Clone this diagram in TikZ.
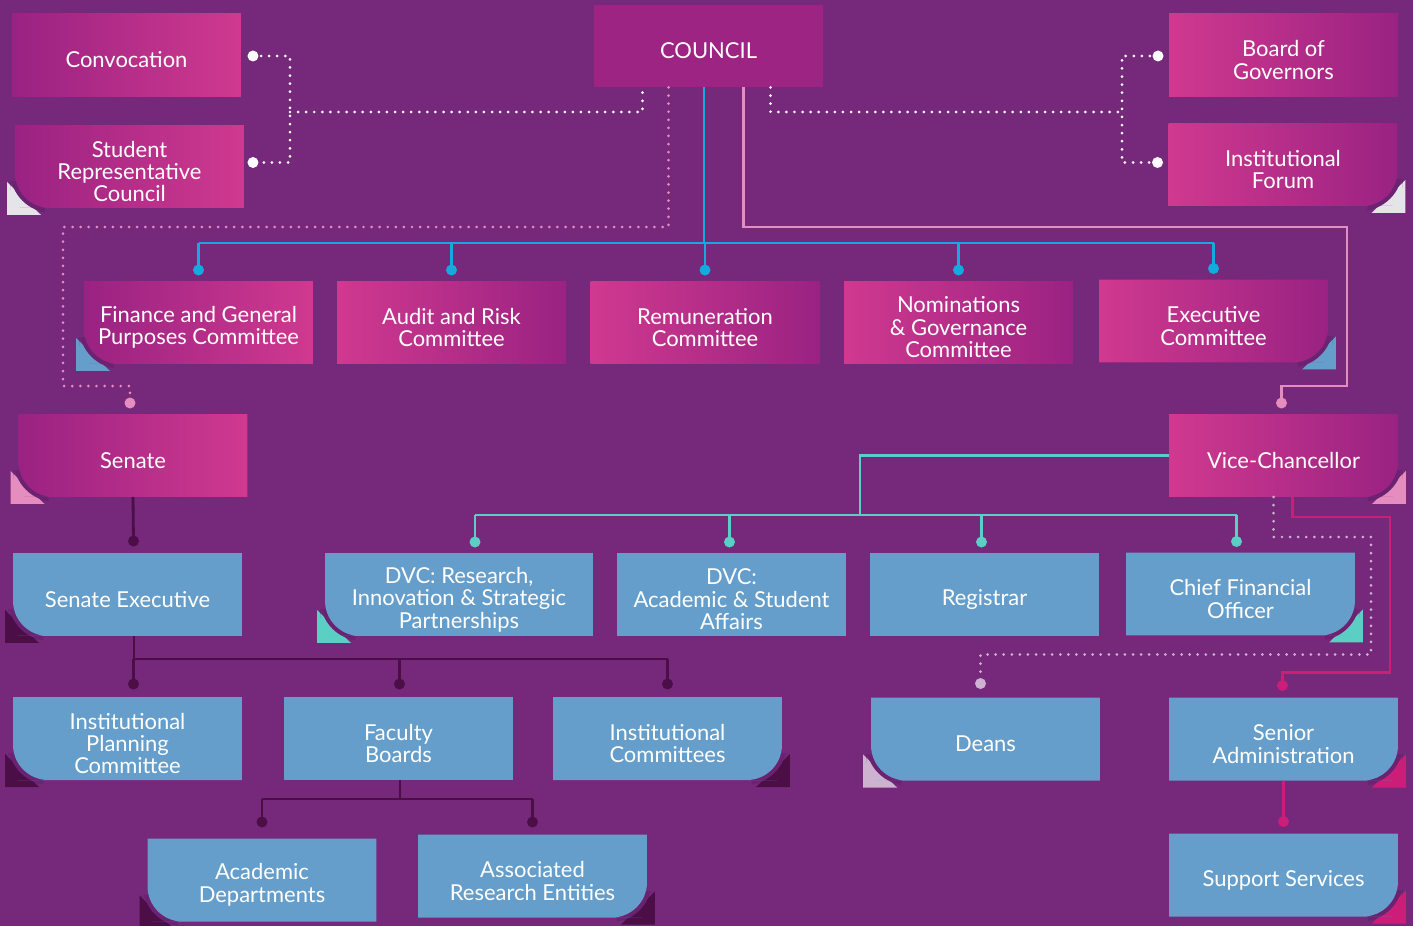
\documentclass[tikz,border=0pt]{standalone}
\usepackage{fontspec}
\setmainfont{Lato}
\usetikzlibrary{calc,backgrounds}

\definecolor{bgpurple}{HTML}{76287A}
\definecolor{magdark}{HTML}{9A2282}
\definecolor{magpink}{HTML}{D0398F}
\definecolor{councilcol}{HTML}{9D2483}
\definecolor{boxblue}{HTML}{659ECA}
\definecolor{cyanline}{HTML}{14AADD}
\definecolor{pinkline}{HTML}{E58DBE}
\definecolor{tealline}{HTML}{5CCFC5}
\definecolor{lilacline}{HTML}{CDB3D0}
\definecolor{magline}{HTML}{CC1E78}
\definecolor{darkline}{HTML}{4B0E47}
\definecolor{curlgrey}{HTML}{E4E4E9}
\definecolor{curlshade}{HTML}{6A2271}

% plain box behind a node
\newcommand{\flatbox}[2]{\path[#2] (#1.south west) rectangle (#1.north east);}
% box with a curled bottom left / bottom right corner
\newcommand{\curlbl}[3]{%
  \begin{scope}[shift={(#1.south west)}]
    \fill[#3] (-8,-26) -- (-8,7) -- (26,7) -- cycle;
    \clip (-10,-26) rectangle (30,10);
    \fill[curlshade, rounded corners=24] (-5,-60) rectangle (80,5);
  \end{scope}
  \path[#2] (#1.north east) -- (#1.north west) -- ($(#1.south west)+(0,-40)$)
    [rounded corners=20] -- (#1.south west) -- ($(#1.south west)+(40,0)$)
    [sharp corners] -- (#1.south east) -- cycle;}
\newcommand{\curlbr}[3]{%
  \begin{scope}[shift={(#1.south east)}, xscale=-1]
    \fill[#3] (-8,-26) -- (-8,7) -- (26,7) -- cycle;
    \clip (-10,-26) rectangle (30,10);
    \fill[curlshade, rounded corners=24] (-5,-60) rectangle (80,5);
  \end{scope}
  \path[#2] (#1.north west) -- (#1.north east) -- ($(#1.south east)+(0,-40)$)
    [rounded corners=20] -- (#1.south east) -- ($(#1.south east)+(-40,0)$)
    [sharp corners] -- (#1.south west) -- cycle;}

\begin{document}
\begin{tikzpicture}[x=0.02cm, y=-0.02cm,
    boxtext/.style={align=center, text=white, inner sep=0pt, yshift=-0.1cm,
                    font=\fontsize{12.5}{12.8}\selectfont},
    orgbox/.style={minimum width=4.58cm, minimum height=1.66cm, inner sep=0pt,
                   outer sep=0pt, label={[boxtext]center:{#1}}},
    magleft/.style={left color=magdark, right color=magpink},
    magright/.style={left color=magpink, right color=magdark},
    bluefill/.style={fill=boxblue},
    dot/.style={circle, fill, inner sep=0pt, minimum size=0.22cm},
    solidline/.style={line width=1.6pt},
    dotline/.style={line width=1.7pt, line cap=round, dash pattern=on 0pt off 4.6pt},
    wdots/.style={dotline, color=white},
    pdots/.style={dotline, color=pinkline},
    ldots/.style={dotline, color=lilacline},
    cyanl/.style={solidline, color=cyanline},
    pinkl/.style={solidline, color=pinkline},
    teall/.style={solidline, color=tealline},
    magl/.style={solidline, color=magline},
    darkl/.style={solidline, color=darkline}]

  \begin{scope}[on background layer]
    \fill[bgpurple] (0,0) rectangle (1413,926);
  \end{scope}
  \useasboundingbox (0,0) rectangle (1413,926);

  % governance
  \node[orgbox={Convocation}] (conv) at (126.5,55) {};
  \node[orgbox={Student\\Representative\\Council}] (src) at (129.5,166.5) {};
  \node[orgbox={COUNCIL}] (council) at (708.5,46) {};
  \node[orgbox={Board of\\Governors}] (bog) at (1283.5,55) {};
  \node[orgbox={Institutional\\Forum}] (forum) at (1283,164.5) {};

  % council committees
  \node[orgbox={Finance and General\\Purposes Committee}] (fin) at (198.5,322.5) {};
  \node[orgbox={Audit and Risk\\Committee}] (audit) at (451.5,322.5) {};
  \node[orgbox={Remuneration\\Committee}] (rem) at (705,322.5) {};
  \node[orgbox={Nominations\\\& Governance\\Committee}] (nom) at (958.5,322.5) {};
  \node[orgbox={Executive\\Committee}] (exec) at (1213.5,321) {};

  \node[orgbox={Senate}] (senate) at (133,455.5) {};
  \node[orgbox={Vice-Chancellor}] (vc) at (1283.5,455.5) {};

  % executive level
  \node[orgbox={Senate Executive}] (senex) at (127.5,594.5) {};
  \node[orgbox={DVC: Research,\\Innovation \& Strategic\\Partnerships}, minimum width=5.36cm] (dvcr) at (459,594.5) {};
  \node[orgbox={DVC:\\Academic \& Student\\Affairs}] (dvca) at (731.5,594.5) {};
  \node[orgbox={Registrar}] (reg) at (984.5,594.5) {};
  \node[orgbox={Chief Financial\\Officer}] (cfo) at (1240.5,594) {};

  \node[orgbox={Institutional\\Planning\\Committee}] (ipc) at (127.5,738.5) {};
  \node[orgbox={Faculty\\Boards}] (fb) at (398.5,738.5) {};
  \node[orgbox={Institutional\\Committees}] (ic) at (667.5,738.5) {};
  \node[orgbox={Deans}] (deans) at (985.5,739) {};
  \node[orgbox={Senior\\Administration}] (senior) at (1283.5,739) {};

  \node[orgbox={Academic\\Departments}] (acad) at (262,880) {};
  \node[orgbox={Associated\\Research Entities}] (assoc) at (532.5,876) {};
  \node[orgbox={Support Services}] (support) at (1283.5,875) {};

  \begin{scope}[on background layer]
    \flatbox{conv}{magleft}
    \flatbox{council}{fill=councilcol}
    \flatbox{bog}{magright}
    \flatbox{audit}{magright}
    \flatbox{rem}{magright}
    \flatbox{nom}{magright}
    \flatbox{dvca}{bluefill}
    \flatbox{reg}{bluefill}
    \flatbox{fb}{bluefill}
    \curlbl{src}{magleft}{curlgrey}
    \curlbr{forum}{magright}{curlgrey}
    \curlbl{fin}{magleft}{boxblue}
    \curlbr{exec}{magright}{boxblue}
    \curlbl{senate}{magleft}{pinkline}
    \curlbr{vc}{magright}{pinkline}
    \curlbl{senex}{bluefill}{darkline}
    \curlbl{dvcr}{bluefill}{tealline}
    \curlbr{cfo}{bluefill}{tealline}
    \curlbl{ipc}{bluefill}{darkline}
    \curlbr{ic}{bluefill}{darkline}
    \curlbl{deans}{bluefill}{lilacline}
    \curlbr{senior}{bluefill}{magline}
    \curlbl{acad}{bluefill}{darkline}
    \curlbr{assoc}{bluefill}{darkline}
    \curlbr{support}{bluefill}{magline}
  \end{scope}

  % dotted links to council
  \coordinate (wl) at (290,112);
  \coordinate (wr) at (1122,112);
  \draw[wdots] ($(conv.east)+(12,1)$) node[dot]{} -| (wl) |- ($(src.east)+(9,-4)$) node[dot]{};
  \draw[wdots] (wl) -| ($(council.south)+(-66,0)$);
  \draw[wdots] ($(council.south)+(62,0)$) |- (wr);
  \draw[wdots] ($(bog.west)+(-11,1)$) node[dot]{} -| (wr) |- ($(forum.west)+(-11,-2)$) node[dot]{};

  \coordinate (pk) at (63,227);
  \draw[pdots] ($(council.south)+(-40,0)$) |- (pk) |- ($(senate.north)+(-3,-28)$)
    -- ($(senate.north)+(-3,-11)$) node[dot]{};

  % council committees
  \coordinate (cb) at (704,243);
  \draw[cyanl] (council.south -| cb) -- (cb);
  \draw[cyanl] (fin.north |- cb) -- (exec.north |- cb);
  \foreach \n in {fin,audit,rem,nom,exec} {
    \draw[cyanl] (\n.north |- cb) -- ($(\n.north)+(0,-11)$) node[dot]{};
  }

  \coordinate (ps) at (1347,227);
  \draw[pinkl] ($(council.south)+(35,0)$) |- (ps) |- ($(vc.north)+(-2,-28)$)
    -- ($(vc.north)+(-2,-11)$) node[dot]{};

  % vice-chancellor
  \coordinate (tb) at (860,515);
  \draw[teall] (vc.west) -| (tb);
  \draw[teall] ($(dvcr.north |- tb)+(16,0)$) -- ($(cfo.north |- tb)+(-4,0)$);
  \foreach \n/\dx in {dvcr/16, dvca/-2, reg/-3, cfo/-4} {
    \draw[teall] ($(\n.north |- tb)+(\dx,0)$) -- ($(\n.north)+(\dx,-11)$) node[dot]{};
  }

  \coordinate (lc) at (1371,537);
  \draw[ldots] ($(vc.south)+(-10,0)$) |- (lc) |- ($(deans.north)+(-5,-43)$)
    -- ($(deans.north)+(-5,-14)$) node[dot]{};

  \coordinate (mc) at (1390,517);
  \draw[magl] ($(vc.south)+(9,0)$) |- (mc) |- ($(senior.north)+(-1,-25)$)
    -- ($(senior.north)+(-1,-12)$) node[dot]{};
  \draw[magl] (senior.south) -- ($(support.north)+(0,-12)$) node[dot]{};

  % senate
  \draw[darkl] (senate.south) -- ($(senex.north)+(6,-12)$) node[dot]{};
  \coordinate (sb) at (134,659);
  \draw[darkl] (senex.south -| sb) -- (sb) -- (ic.north |- sb);
  \foreach \n/\dx in {ipc/6, fb/1, ic/0} {
    \draw[darkl] ($(\n.north |- sb)+(\dx,0)$) -- ($(\n.north)+(\dx,-13)$) node[dot]{};
  }

  \coordinate (fbb) at (400,799);
  \draw[darkl] (fb.south -| fbb) -- (fbb);
  \draw[darkl] (acad.north |- fbb) -- (assoc.north |- fbb);
  \foreach \n in {acad,assoc} {
    \draw[darkl] (\n.north |- fbb) -- ($(\n.north |- fbb)+(0,23)$) node[dot]{};
  }
\end{tikzpicture}
\end{document}
